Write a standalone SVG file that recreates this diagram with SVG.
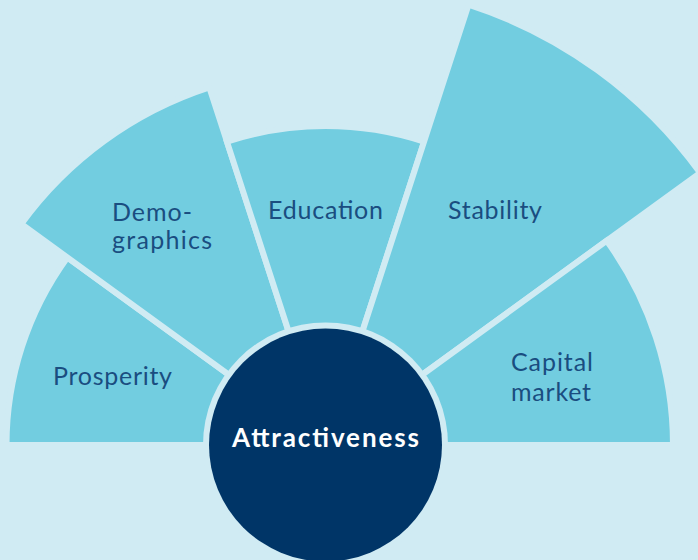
<svg xmlns="http://www.w3.org/2000/svg" width="698" height="560" viewBox="0 0 698 560">
  <style>
    .sector { fill: #72cde0; stroke: #d0ebf3; stroke-width: 6; stroke-linejoin: miter; }
    .label { font-family: "Lato", "Liberation Sans", sans-serif; font-size: 25px; fill: #1a4d80; }
    .core { font-family: "Lato", "Liberation Sans", sans-serif; font-size: 26px; font-weight: bold; fill: #ffffff; }
  </style>
  <rect x="0" y="0" width="698" height="560" fill="#d0ebf3"/>
  <g id="prosperity">
    <path class="sector" d="M325.5,445 L6.5,445 A319,319 0 0 1 67.42,257.5 Z"/>
    <text class="label" x="53" y="385" textLength="119" lengthAdjust="spacing">Prosperity</text>
  </g>
  <g id="demographics">
    <path class="sector" d="M325.5,445 L21.31,223.99 A376,376 0 0 1 209.31,87.4 Z"/>
    <text class="label" x="112" y="221" textLength="80" lengthAdjust="spacing">Demo-</text>
    <text class="label" x="112" y="248.5" textLength="100" lengthAdjust="spacing">graphics</text>
  </g>
  <g id="education">
    <path class="sector" d="M325.5,445 L226.92,141.61 A319,319 0 0 1 424.08,141.61 Z"/>
    <text class="label" x="268" y="219" textLength="115" lengthAdjust="spacing">Education</text>
  </g>
  <g id="stability">
    <path class="sector" d="M325.5,445 L468.58,4.66 A463,463 0 0 1 700.08,172.85 Z"/>
    <text class="label" x="448" y="219" textLength="94" lengthAdjust="spacing">Stability</text>
  </g>
  <g id="capital-market">
    <path class="sector" d="M325.5,445 L606.63,240.74 A347.5,347.5 0 0 1 673,445 Z"/>
    <text class="label" x="511" y="371" textLength="82" lengthAdjust="spacing">Capital</text>
    <text class="label" x="511" y="401" textLength="80" lengthAdjust="spacing">market</text>
  </g>
  <g id="connectors"></g>
  <g id="attractiveness">
    <circle cx="325.5" cy="445" r="122.5" fill="#d0ebf3"/>
    <circle cx="325.5" cy="445" r="116.5" fill="#003567"/>
    <text class="core" x="232" y="447" textLength="187" lengthAdjust="spacing">Attractiveness</text>
  </g>
</svg>
